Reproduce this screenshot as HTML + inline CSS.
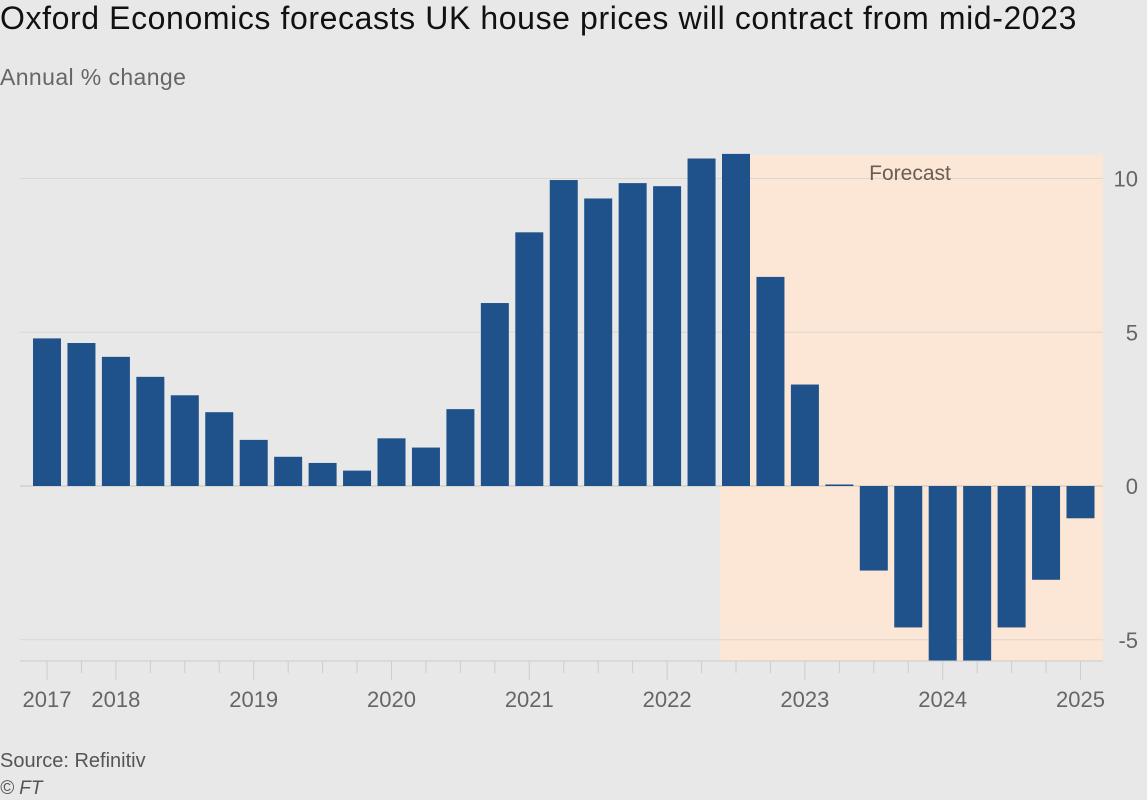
<!DOCTYPE html>
<html><head><meta charset="utf-8"><style>
body{margin:0;width:1147px;height:800px;background:#e8e8e8;font-family:"Liberation Sans",sans-serif;overflow:hidden;position:relative}
.t{position:absolute;left:0;top:0px;font-size:32px;letter-spacing:0.6px;color:#111;white-space:nowrap}
.s{position:absolute;left:0;top:64px;font-size:23px;letter-spacing:0.4px;color:#666}
.src{position:absolute;left:0;top:750px;font-size:20px;color:#555}
.ft{position:absolute;left:0;top:778px;font-size:19px;color:#555;font-style:italic}
</style></head><body>
<div class="t">Oxford Economics forecasts UK house prices will contract from mid-2023</div>
<div class="s">Annual % change</div>
<svg id="c" width="1147" height="800" style="position:absolute;left:0;top:0"></svg>
<div class="src">Source: Refinitiv</div>
<div class="ft">© FT</div>
<script>
const values=[4.8,4.65,4.2,3.55,2.95,2.4,1.5,0.95,0.75,0.5,1.55,1.25,2.5,5.95,8.25,9.95,9.35,9.85,9.75,10.65,10.8,6.8,3.3,0.05,-2.75,-4.6,-5.8,-5.75,-4.6,-3.05,-1.05];
const yearLabels=["2017","2018","2019","2020","2021","2022","2023","2024","2025"];
const yearIdx=[0,2,6,10,14,18,22,26,30];
const yTicks=[-5,0,5,10];
const forecastStart=21;
const ns="http://www.w3.org/2000/svg",svg=document.getElementById("c");
const y=v=>486-v*30.75, x=i=>47+i*34.45, top0=155, bot=661, right=1103, bw=28;
function mk(t,a){const e=document.createElementNS(ns,t);for(const k in a)e.setAttribute(k,a[k]);svg.appendChild(e);return e;}
let r1=mk("rect",{x:x(forecastStart-1)+bw/2,y:top0,width:right-(x(forecastStart-1)+bw/2),height:y(0)-top0,fill:"#fce6d6"});


let r2=mk("rect",{x:x(forecastStart-1)-bw/2-2,y:y(0),width:right-(x(forecastStart-1)-bw/2-2),height:bot-y(0),fill:"#fce6d6"});


yTicks.forEach(v=>{
 let g=mk("line",{x1:20,x2:right,y1:y(v),y2:y(v),stroke:v==0?"#c9c2bc":"#dcd6d0","stroke-width":1});
 
 
 let t=mk("text",{x:1138,y:y(v)+8,"text-anchor":"end","font-size":22,fill:"#666"});t.textContent=v;
 
 
});
let ft=mk("text",{x:910,y:180,"text-anchor":"middle","font-size":21,fill:"#6b5d55"});ft.textContent="Forecast";


values.forEach((v,i)=>{
 const yy=Math.max(-5.7,v);
 let b=mk("rect",{x:x(i)-bw/2,y:Math.min(y(0),y(yy)),width:bw,height:Math.max(1,Math.abs(y(yy)-y(0))),fill:"#1f528a"});
 
 
 let tk=mk("line",{x1:x(i),x2:x(i),y1:bot,y2:yearIdx.includes(i)?680:673,stroke:"#ccc","stroke-width":1});
 
 
});
let ax=mk("line",{x1:20,x2:right,y1:bot,y2:bot,stroke:"#ccc"});


yearLabels.forEach((l,k)=>{
 let t=mk("text",{x:x(yearIdx[k]),y:707,"text-anchor":"middle","font-size":22,fill:"#666"});t.textContent=l;
 
 
});
</script>
</body></html>
